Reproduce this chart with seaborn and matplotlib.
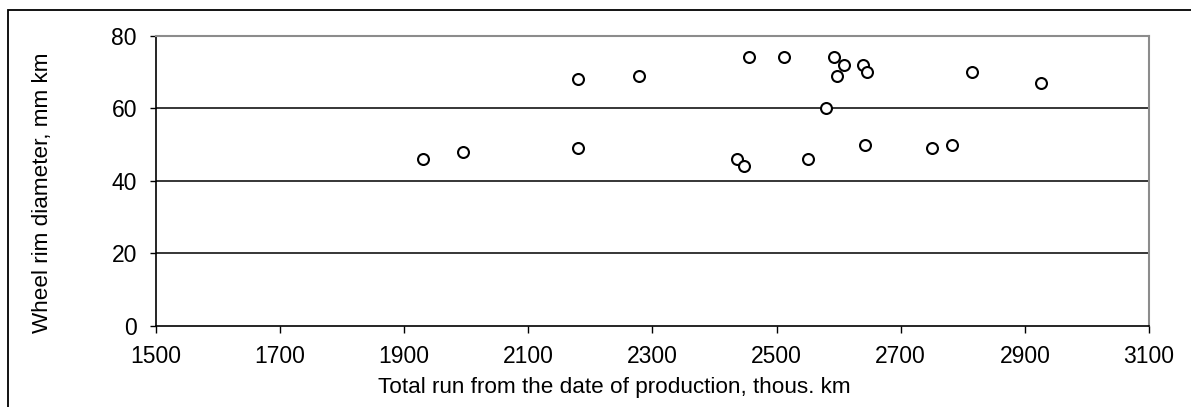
import matplotlib
matplotlib.use("Agg")
import matplotlib.pyplot as plt
from matplotlib.patches import Rectangle
import seaborn as sns
import pandas as pd

# Values
total_run = [1930, 1995, 2180, 2180, 2278, 2455, 2512, 2436, 2447, 2592, 2609,
             2597, 2640, 2645, 2815, 2926, 2580, 2551, 2643, 2750, 2783]
rim_diameter = [46, 48, 68, 49, 69, 74, 74, 46, 44, 74, 72,
                69, 72, 70, 70, 67, 60, 46, 50, 49, 50]
x_ticks = [1500, 1700, 1900, 2100, 2300, 2500, 2700, 2900, 3100]
y_ticks = [0, 20, 40, 60, 80]

sns.set_style("white")
plt.rcParams['font.family'] = ['Liberation Sans', 'DejaVu Sans']
plt.rcParams['text.color'] = 'black'

df = pd.DataFrame({'run': total_run, 'diameter': rim_diameter})

fig = plt.figure(figsize=(11.91, 4.07), dpi=100)
ax = fig.add_axes([155.7 / 1191, 1 - 326 / 407, (1149 - 155.7) / 1191, (326 - 35.7) / 407])

sns.scatterplot(data=df, x='run', y='diameter', ax=ax, s=62,
                facecolor='white', edgecolor='black', linewidth=1.5, zorder=3)

ax.set_xlim(1500, 3100)
ax.set_ylim(0, 80)
ax.set_xticks(x_ticks)
ax.set_yticks(y_ticks)

# horizontal gridlines only, black like the original
for yv in y_ticks[1:-1]:
    ax.axhline(yv, color='black', linewidth=1.1, zorder=1)

for side in ['left', 'bottom']:
    ax.spines[side].set_color('black')
    ax.spines[side].set_linewidth(1.2)
for side in ['top', 'right']:
    ax.spines[side].set_color('#8c8c8c')
    ax.spines[side].set_linewidth(1.5)

ax.tick_params(axis='both', direction='out', length=4.5, width=1.0,
               color='black', labelsize=16.5, pad=9, labelcolor='black',
               bottom=True, left=True)
ax.tick_params(axis='x', length=5)

ax.set_xlabel('')
ax.set_ylabel('')
fig.text(614.5 / 1191, 1 - 388 / 407, 'Total run from the date of production, thous. km',
         ha='center', va='center', fontsize=16.2, color='black')
fig.text(43 / 1191, 1 - 193 / 407, 'Wheel rim diameter, mm km',
         ha='center', va='center', rotation=90, fontsize=16.2, color='black')

# outer chart border (right and bottom edges fall outside the picture)
fig.patches.append(Rectangle((7.5 / 1191, -0.05), 1.1, 1 - 10 / 407 + 0.05,
                             transform=fig.transFigure, fill=False,
                             edgecolor='black', linewidth=1.3))

fig.savefig('out.png', dpi=100)
